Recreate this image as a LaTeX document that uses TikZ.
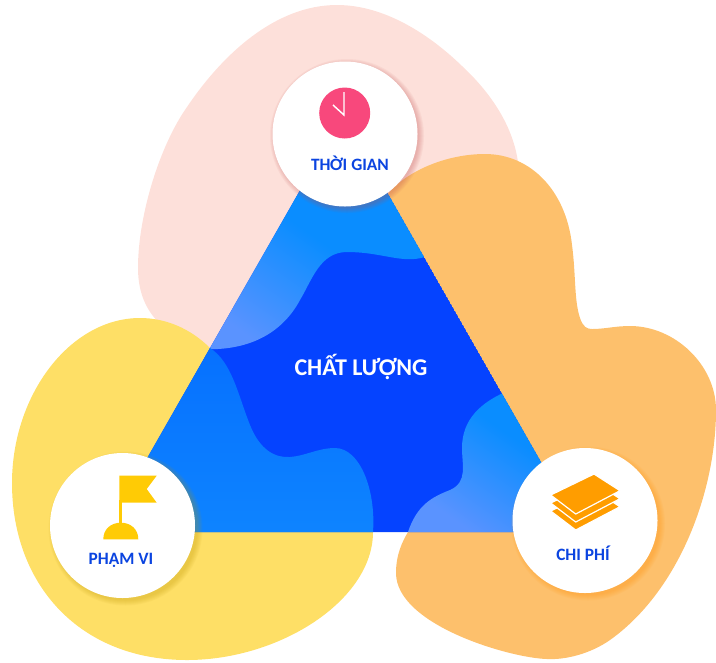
\documentclass[tikz,border=0pt]{standalone}
\usepackage{fontspec}
\setmainfont{Carlito}
\definecolor{pinkb}{HTML}{FDE0DA}
\definecolor{orangeb}{HTML}{FDC06C}
\definecolor{yellowb}{HTML}{FEDF66}
\definecolor{deepb}{HTML}{0543FF}
\definecolor{skyb}{HTML}{0A8DFF}
\definecolor{paleb}{HTML}{5A93FF}
\definecolor{midtop}{HTML}{0670FF}
\definecolor{midbot}{HTML}{0E84FF}
\definecolor{labelb}{HTML}{0B44E0}
\definecolor{clockc}{HTML}{F8487C}
\definecolor{flagc}{HTML}{FFCB05}
\definecolor{layerc}{HTML}{FF9D00}
\pgfdeclareverticalshading{skypale}{100bp}{color(0bp)=(paleb); color(37bp)=(paleb); color(60bp)=(skyb); color(100bp)=(skyb)}
\tikzset{
  disc/.style={circle,fill=white,minimum size=145*0.75pt,inner sep=0pt},
  lab/.style={font=\fontsize{13pt}{15pt}\selectfont\bfseries,text=labelb,inner sep=0pt},
  sheet/.style={fill=layerc,draw=white,line width=0.9pt,line join=miter},
}
\newcommand{\softdisc}[4]{% x y color offset
  \foreach \r in {77,76,75,74,73,72}{
    \fill[#3,opacity=0.06] (#1+#4,#2+#4) circle[radius=\r*0.75pt];
  }
}
\begin{document}
\begin{tikzpicture}[x=0.75pt,y=-0.75pt]
\useasboundingbox (0,0) rectangle (716,662);
\clip (0,0) rectangle (716,662);
% pink blob
\fill[pinkb] (210,349) .. controls (175,340) and (138,320) .. (138,268)
  .. controls (138,215) and (160,145) .. (187,107)
  .. controls (222,55) and (275,5) .. (337,5)
  .. controls (385,5) and (430,35) .. (462,66)
  .. controls (490,92) and (518,130) .. (519,175)
  -- (430,300) -- cycle;
% yellow blob
\fill[yellowb] (210,348) .. controls (190,328) and (165,318) .. (140,318)
  .. controls (70,318) and (12,395) .. (12,483)
  .. controls (12,585) and (80,660) .. (187,660)
  .. controls (280,660) and (373,600) .. (373,532) -- cycle;
% orange blob
\fill[orangeb] (387,195) .. controls (405,172) and (445,154) .. (485,154)
  .. controls (530,154) and (566,190) .. (572,245)
  .. controls (576,275) and (574,300) .. (580,318)
  .. controls (583,327) and (587,329) .. (592,329)
  .. controls (605,329) and (615,326) .. (630,326)
  .. controls (675,326) and (716,365) .. (716,410)
  .. controls (716,490) and (680,590) .. (610,640)
  .. controls (590,654) and (565,660) .. (547,659)
  .. controls (510,658) and (396,625) .. (396,573)
  .. controls (396,555) and (402,542) .. (408,532) -- cycle;
% triangle
\coordinate (tA) at (343,115);
\coordinate (tB) at (105,532);
\coordinate (tC) at (581,532);
\begin{scope}
  \clip (tA) -- (tB) -- (tC) -- cycle;
  \fill[deepb] (tA) -- (tB) -- (tC) -- cycle;
  % top light area
  \begin{scope}
    \clip (430,255) .. controls (405,266) and (385,252) .. (347,252)
      .. controls (320,252) and (312,280) .. (300,300)
      .. controls (285,328) and (255,352) .. (200,349)
      -- (200,100) -- (430,100) -- cycle;
    \shade[shading=skypale,shading angle=-35] (170,160) rectangle (430,420);
    \fill[skyb] (170,100) rectangle (440,160);
  \end{scope}
  % left light area
  \begin{scope}
    \clip (210,348) .. controls (232,362) and (238,395) .. (250,425)
      .. controls (260,450) and (275,458) .. (290,457)
      .. controls (305,456) and (318,448) .. (335,448)
      .. controls (360,448) and (376,490) .. (373,532)
      -- (100,532) -- (100,348) -- cycle;
    \shade[top color=midtop,bottom color=midbot] (100,340) rectangle (380,535);
  \end{scope}
  % right light area
  \begin{scope}
    \clip (510,390) .. controls (480,402) and (462,420) .. (462,448)
      .. controls (462,465) and (468,482) .. (450,490)
      .. controls (432,497) and (417,505) .. (408,532)
      -- (590,532) -- (590,390) -- cycle;
    \shade[shading=skypale,shading angle=-35] (380,365) rectangle (600,585);
  \end{scope}
\end{scope}
% discs with soft shadows
\softdisc{345}{134}{red!55!pinkb!75!black}{2}
\softdisc{122.5}{525.5}{flagc!75!black}{3}
\softdisc{585}{520.5}{layerc!90!red}{3}
\node[disc] (time) at (345,134) {};
\node[disc] (scope) at (122.5,525.5) {};
\node[disc] (cost) at (585,520.5) {};
% clock
\fill[clockc] (344.7,113) circle[radius=25.5*0.75pt];
\draw[white,line width=1.1pt,line join=miter] (344,92) -- (344,115) -- (333,105);
% flag
\fill[flagc] (119.3,475.7) -- (156.7,475.7) -- (146.7,489) -- (156.7,502.7) -- (119.3,502.7) -- cycle;
\fill[flagc] (119.3,500) rectangle (121.7,525);
\fill[flagc] (103.3,539.3) .. controls (103.3,529) and (111,522.7) .. (120.8,522.7) .. controls (130.6,522.7) and (138.3,529) .. (138.3,539.3) -- cycle;
% layers
\foreach \d in {16,8,0}{
  \draw[sheet] (594,474+\d) -- (620,490.7+\d) -- (575.7,514+\d) -- (550.7,495+\d) -- cycle;
}
% labels
\node[lab] (timelab) at (350,163) {THỜI GIAN};
\node[lab] (scopelab) at (121,560) {PHẠM VI};
\node[lab] (costlab) at (583,553) {CHI PHÍ};
\node[font=\fontsize{18pt}{20pt}\selectfont\bfseries,text=white,inner sep=0pt] (quality) at (361,367) {CHẤT LƯỢNG};
\end{tikzpicture}
\end{document}
